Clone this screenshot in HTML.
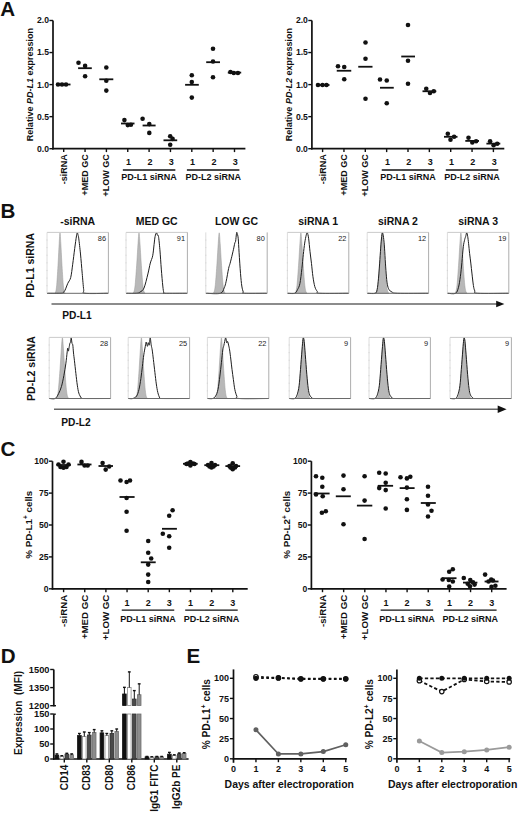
<!DOCTYPE html>
<html><head><meta charset="utf-8"><title>Figure</title>
<style>html,body{margin:0;padding:0;background:#fff;}body{width:520px;height:815px;overflow:hidden;font-family:"Liberation Sans", sans-serif;}svg{display:block;}</style>
</head><body>
<svg width="520" height="815" viewBox="0 0 520 815" font-family='"Liberation Sans", sans-serif'><text x="0.2" y="16" font-size="20.6" font-weight="bold" text-anchor="start" fill="#111" >A</text>
<text x="0.6" y="217.6" font-size="20.6" font-weight="bold" text-anchor="start" fill="#111" >B</text>
<text x="0.6" y="456" font-size="20.6" font-weight="bold" text-anchor="start" fill="#111" >C</text>
<text x="0.8" y="662.8" font-size="20.6" font-weight="bold" text-anchor="start" fill="#111" >D</text>
<text x="186.6" y="663" font-size="20.6" font-weight="bold" text-anchor="start" fill="#111" >E</text>
<line x1="53" y1="20.5" x2="53" y2="149.5" stroke="#111" stroke-width="1.7" />
<line x1="49.4" y1="148.7" x2="53" y2="148.7" stroke="#111" stroke-width="1.4" />
<text x="49" y="151.6" font-size="8.6" font-weight="bold" text-anchor="end" fill="#111" >0.0</text>
<line x1="49.4" y1="116.65" x2="53" y2="116.65" stroke="#111" stroke-width="1.4" />
<text x="49" y="119.55" font-size="8.6" font-weight="bold" text-anchor="end" fill="#111" >0.5</text>
<line x1="49.4" y1="84.6" x2="53" y2="84.6" stroke="#111" stroke-width="1.4" />
<text x="49" y="87.5" font-size="8.6" font-weight="bold" text-anchor="end" fill="#111" >1.0</text>
<line x1="49.4" y1="52.55" x2="53" y2="52.55" stroke="#111" stroke-width="1.4" />
<text x="49" y="55.45" font-size="8.6" font-weight="bold" text-anchor="end" fill="#111" >1.5</text>
<line x1="49.4" y1="20.5" x2="53" y2="20.5" stroke="#111" stroke-width="1.4" />
<text x="49" y="23.4" font-size="8.6" font-weight="bold" text-anchor="end" fill="#111" >2.0</text>
<line x1="52.2" y1="148.7" x2="245.4" y2="148.7" stroke="#111" stroke-width="1.7" />
<line x1="63.7" y1="148.7" x2="63.7" y2="152.1" stroke="#111" stroke-width="1.4" />
<line x1="85.05" y1="148.7" x2="85.05" y2="152.1" stroke="#111" stroke-width="1.4" />
<line x1="106.4" y1="148.7" x2="106.4" y2="152.1" stroke="#111" stroke-width="1.4" />
<line x1="127.75" y1="148.7" x2="127.75" y2="152.1" stroke="#111" stroke-width="1.4" />
<line x1="149.1" y1="148.7" x2="149.1" y2="152.1" stroke="#111" stroke-width="1.4" />
<line x1="170.45" y1="148.7" x2="170.45" y2="152.1" stroke="#111" stroke-width="1.4" />
<line x1="191.8" y1="148.7" x2="191.8" y2="152.1" stroke="#111" stroke-width="1.4" />
<line x1="213.15" y1="148.7" x2="213.15" y2="152.1" stroke="#111" stroke-width="1.4" />
<line x1="234.5" y1="148.7" x2="234.5" y2="152.1" stroke="#111" stroke-width="1.4" />
<text x="66.8" y="154.3" font-size="9" font-weight="bold" text-anchor="end" fill="#111" transform="rotate(-90 66.8 154.3)" >-siRNA</text>
<text x="88.15" y="154.3" font-size="9" font-weight="bold" text-anchor="end" fill="#111" transform="rotate(-90 88.15 154.3)" >+MED GC</text>
<text x="109.5" y="154.3" font-size="9" font-weight="bold" text-anchor="end" fill="#111" transform="rotate(-90 109.5 154.3)" >+LOW GC</text>
<text x="128.55" y="164.8" font-size="9" font-weight="bold" text-anchor="middle" fill="#111" >1</text>
<text x="149.9" y="164.8" font-size="9" font-weight="bold" text-anchor="middle" fill="#111" >2</text>
<text x="171.25" y="164.8" font-size="9" font-weight="bold" text-anchor="middle" fill="#111" >3</text>
<text x="192.6" y="164.8" font-size="9" font-weight="bold" text-anchor="middle" fill="#111" >1</text>
<text x="213.95" y="164.8" font-size="9" font-weight="bold" text-anchor="middle" fill="#111" >2</text>
<text x="235.3" y="164.8" font-size="9" font-weight="bold" text-anchor="middle" fill="#111" >3</text>
<line x1="122.85" y1="170" x2="175.35" y2="170" stroke="#111" stroke-width="1.4" />
<text x="149.1" y="180.1" font-size="9" font-weight="bold" text-anchor="middle" fill="#111" >PD-L1 siRNA</text>
<line x1="186.9" y1="170" x2="239.4" y2="170" stroke="#111" stroke-width="1.4" />
<text x="213.15" y="180.1" font-size="9" font-weight="bold" text-anchor="middle" fill="#111" >PD-L2 siRNA</text>
<text x="33" y="84.6" font-size="9" font-weight="bold" text-anchor="middle" fill="#111" transform="rotate(-90 33 84.6)">Relative <tspan font-style="italic">PD-L1</tspan> expression</text>
<circle cx="58" cy="84.5" r="2.3" fill="#111"/>
<circle cx="62" cy="84.5" r="2.3" fill="#111"/>
<circle cx="66" cy="84.5" r="2.3" fill="#111"/>
<line x1="56.5" y1="84.5" x2="70.5" y2="84.5" stroke="#111" stroke-width="1.8" />
<circle cx="78.5" cy="62.8" r="2.3" fill="#111"/>
<circle cx="85.1" cy="65.9" r="2.3" fill="#111"/>
<circle cx="85.1" cy="76.2" r="2.3" fill="#111"/>
<line x1="78.1" y1="68.2" x2="91.8" y2="68.2" stroke="#111" stroke-width="1.8" />
<circle cx="106.3" cy="67.5" r="2.3" fill="#111"/>
<circle cx="106.3" cy="80.7" r="2.3" fill="#111"/>
<circle cx="106.3" cy="90.6" r="2.3" fill="#111"/>
<line x1="99.3" y1="79.3" x2="113.3" y2="79.3" stroke="#111" stroke-width="1.8" />
<circle cx="124.4" cy="120.1" r="2.3" fill="#111"/>
<circle cx="127.8" cy="125.1" r="2.3" fill="#111"/>
<circle cx="130.9" cy="124.8" r="2.3" fill="#111"/>
<line x1="121" y1="123.5" x2="134.5" y2="123.5" stroke="#111" stroke-width="1.8" />
<circle cx="142.6" cy="118.7" r="2.3" fill="#111"/>
<circle cx="149.3" cy="124.1" r="2.3" fill="#111"/>
<circle cx="149.3" cy="132.9" r="2.3" fill="#111"/>
<line x1="142.6" y1="125.5" x2="155.6" y2="125.5" stroke="#111" stroke-width="1.8" />
<circle cx="170.2" cy="136.2" r="2.3" fill="#111"/>
<circle cx="172.6" cy="138.9" r="2.3" fill="#111"/>
<circle cx="170.2" cy="144.7" r="2.3" fill="#111"/>
<line x1="163.5" y1="140.3" x2="177.2" y2="140.3" stroke="#111" stroke-width="1.8" />
<circle cx="191.8" cy="75.3" r="2.3" fill="#111"/>
<circle cx="191.8" cy="82" r="2.3" fill="#111"/>
<circle cx="191.8" cy="97.6" r="2.3" fill="#111"/>
<line x1="185.1" y1="84.8" x2="198.8" y2="84.8" stroke="#111" stroke-width="1.8" />
<circle cx="213" cy="48.7" r="2.3" fill="#111"/>
<circle cx="213" cy="61.5" r="2.3" fill="#111"/>
<circle cx="213" cy="77.3" r="2.3" fill="#111"/>
<line x1="206.2" y1="62.2" x2="220" y2="62.2" stroke="#111" stroke-width="1.8" />
<circle cx="230.5" cy="72" r="2.3" fill="#111"/>
<circle cx="233.8" cy="73" r="2.3" fill="#111"/>
<circle cx="237.9" cy="73" r="2.3" fill="#111"/>
<line x1="227.8" y1="72.6" x2="241.2" y2="72.6" stroke="#111" stroke-width="1.8" />
<line x1="311.9" y1="20.5" x2="311.9" y2="149.5" stroke="#111" stroke-width="1.7" />
<line x1="308.3" y1="148.7" x2="311.9" y2="148.7" stroke="#111" stroke-width="1.4" />
<text x="307.9" y="151.6" font-size="8.6" font-weight="bold" text-anchor="end" fill="#111" >0.0</text>
<line x1="308.3" y1="116.65" x2="311.9" y2="116.65" stroke="#111" stroke-width="1.4" />
<text x="307.9" y="119.55" font-size="8.6" font-weight="bold" text-anchor="end" fill="#111" >0.5</text>
<line x1="308.3" y1="84.6" x2="311.9" y2="84.6" stroke="#111" stroke-width="1.4" />
<text x="307.9" y="87.5" font-size="8.6" font-weight="bold" text-anchor="end" fill="#111" >1.0</text>
<line x1="308.3" y1="52.55" x2="311.9" y2="52.55" stroke="#111" stroke-width="1.4" />
<text x="307.9" y="55.45" font-size="8.6" font-weight="bold" text-anchor="end" fill="#111" >1.5</text>
<line x1="308.3" y1="20.5" x2="311.9" y2="20.5" stroke="#111" stroke-width="1.4" />
<text x="307.9" y="23.4" font-size="8.6" font-weight="bold" text-anchor="end" fill="#111" >2.0</text>
<line x1="311.1" y1="148.7" x2="504.3" y2="148.7" stroke="#111" stroke-width="1.7" />
<line x1="322.6" y1="148.7" x2="322.6" y2="152.1" stroke="#111" stroke-width="1.4" />
<line x1="343.95" y1="148.7" x2="343.95" y2="152.1" stroke="#111" stroke-width="1.4" />
<line x1="365.3" y1="148.7" x2="365.3" y2="152.1" stroke="#111" stroke-width="1.4" />
<line x1="386.65" y1="148.7" x2="386.65" y2="152.1" stroke="#111" stroke-width="1.4" />
<line x1="408" y1="148.7" x2="408" y2="152.1" stroke="#111" stroke-width="1.4" />
<line x1="429.35" y1="148.7" x2="429.35" y2="152.1" stroke="#111" stroke-width="1.4" />
<line x1="450.7" y1="148.7" x2="450.7" y2="152.1" stroke="#111" stroke-width="1.4" />
<line x1="472.05" y1="148.7" x2="472.05" y2="152.1" stroke="#111" stroke-width="1.4" />
<line x1="493.4" y1="148.7" x2="493.4" y2="152.1" stroke="#111" stroke-width="1.4" />
<text x="325.7" y="154.3" font-size="9" font-weight="bold" text-anchor="end" fill="#111" transform="rotate(-90 325.7 154.3)" >-siRNA</text>
<text x="347.05" y="154.3" font-size="9" font-weight="bold" text-anchor="end" fill="#111" transform="rotate(-90 347.05 154.3)" >+MED GC</text>
<text x="368.4" y="154.3" font-size="9" font-weight="bold" text-anchor="end" fill="#111" transform="rotate(-90 368.4 154.3)" >+LOW GC</text>
<text x="387.45" y="164.8" font-size="9" font-weight="bold" text-anchor="middle" fill="#111" >1</text>
<text x="408.8" y="164.8" font-size="9" font-weight="bold" text-anchor="middle" fill="#111" >2</text>
<text x="430.15" y="164.8" font-size="9" font-weight="bold" text-anchor="middle" fill="#111" >3</text>
<text x="451.5" y="164.8" font-size="9" font-weight="bold" text-anchor="middle" fill="#111" >1</text>
<text x="472.85" y="164.8" font-size="9" font-weight="bold" text-anchor="middle" fill="#111" >2</text>
<text x="494.2" y="164.8" font-size="9" font-weight="bold" text-anchor="middle" fill="#111" >3</text>
<line x1="381.75" y1="170" x2="434.25" y2="170" stroke="#111" stroke-width="1.4" />
<text x="408" y="180.1" font-size="9" font-weight="bold" text-anchor="middle" fill="#111" >PD-L1 siRNA</text>
<line x1="445.8" y1="170" x2="498.3" y2="170" stroke="#111" stroke-width="1.4" />
<text x="472.05" y="180.1" font-size="9" font-weight="bold" text-anchor="middle" fill="#111" >PD-L2 siRNA</text>
<text x="291.9" y="84.6" font-size="9" font-weight="bold" text-anchor="middle" fill="#111" transform="rotate(-90 291.9 84.6)">Relative <tspan font-style="italic">PD-L2</tspan> expression</text>
<circle cx="318" cy="85" r="2.3" fill="#111"/>
<circle cx="322.5" cy="85" r="2.3" fill="#111"/>
<circle cx="326.5" cy="85" r="2.3" fill="#111"/>
<line x1="316.25" y1="85" x2="329.5" y2="85" stroke="#111" stroke-width="1.8" />
<circle cx="338" cy="66.25" r="2.3" fill="#111"/>
<circle cx="344.25" cy="67" r="2.3" fill="#111"/>
<circle cx="344.25" cy="79.25" r="2.3" fill="#111"/>
<line x1="336.75" y1="70.75" x2="351.25" y2="70.75" stroke="#111" stroke-width="1.8" />
<circle cx="365.5" cy="42.5" r="2.3" fill="#111"/>
<circle cx="365.5" cy="58.75" r="2.3" fill="#111"/>
<circle cx="365.5" cy="98.75" r="2.3" fill="#111"/>
<line x1="358.25" y1="66.75" x2="372.5" y2="66.75" stroke="#111" stroke-width="1.8" />
<circle cx="380" cy="79.5" r="2.3" fill="#111"/>
<circle cx="386.75" cy="80.5" r="2.3" fill="#111"/>
<circle cx="386.75" cy="103.25" r="2.3" fill="#111"/>
<line x1="380" y1="87.75" x2="393.75" y2="87.75" stroke="#111" stroke-width="1.8" />
<circle cx="408" cy="25" r="2.3" fill="#111"/>
<circle cx="408" cy="60.75" r="2.3" fill="#111"/>
<circle cx="408" cy="83.75" r="2.3" fill="#111"/>
<line x1="401.25" y1="56.5" x2="415" y2="56.5" stroke="#111" stroke-width="1.8" />
<circle cx="426.25" cy="88.75" r="2.3" fill="#111"/>
<circle cx="430" cy="93" r="2.3" fill="#111"/>
<circle cx="433.75" cy="91.25" r="2.3" fill="#111"/>
<line x1="422.5" y1="91.25" x2="436.25" y2="91.25" stroke="#111" stroke-width="1.8" />
<circle cx="447.8" cy="133.7" r="2.3" fill="#111"/>
<circle cx="450.5" cy="139.8" r="2.3" fill="#111"/>
<circle cx="454.1" cy="136.8" r="2.3" fill="#111"/>
<line x1="444" y1="136.8" x2="457.5" y2="136.8" stroke="#111" stroke-width="1.8" />
<circle cx="468.5" cy="137.8" r="2.3" fill="#111"/>
<circle cx="472.3" cy="142.5" r="2.3" fill="#111"/>
<circle cx="476.1" cy="141.2" r="2.3" fill="#111"/>
<line x1="465.3" y1="140.9" x2="479" y2="140.9" stroke="#111" stroke-width="1.8" />
<circle cx="490.1" cy="141.2" r="2.3" fill="#111"/>
<circle cx="493.6" cy="145.2" r="2.3" fill="#111"/>
<circle cx="497.2" cy="143.8" r="2.3" fill="#111"/>
<line x1="486.4" y1="143.6" x2="500.3" y2="143.6" stroke="#111" stroke-width="1.8" />
<path d="M54.73 293.3 C54.89 293.01 55.42 292.94 55.75 291.49 C56.08 290.03 56.39 288.77 56.77 284.23 C57.15 279.68 57.75 269.54 58.13 263.05 C58.51 256.56 58.85 248.53 59.15 243.69 C59.45 238.85 59.73 232.8 60 232.8 C60.27 232.8 60.55 238.85 60.85 243.69 C61.15 248.53 61.49 256.56 61.87 263.05 C62.25 269.54 62.85 279.68 63.23 284.23 C63.61 288.77 63.92 290.03 64.25 291.49 C64.58 292.94 65.11 293.01 65.27 293.3 Z" fill="#b8b8b8" stroke="#999" stroke-width="0.5"/>
<path d="M47.5 293.3 C49.66 293.3 58.52 293.4 61 293.3 C63.48 293.2 62.36 293.18 63 292.69 C63.64 292.21 64.23 291.78 65 290.28 C65.77 288.77 66.89 285.35 67.8 283.32 C68.71 281.28 69.92 280.62 70.7 277.57 C71.48 274.52 72.06 268.91 72.7 264.26 C73.34 259.61 74.09 253.08 74.7 248.53 C75.31 243.98 76.08 238.34 76.5 235.83 C76.92 233.31 77.04 232.9 77.3 232.8 C77.56 232.7 77.86 234.25 78.1 235.22 C78.34 236.19 78.42 235.85 78.8 238.85 C79.18 241.85 79.96 248.46 80.5 253.98 C81.04 259.49 81.69 267.62 82.2 273.34 C82.71 279.05 83.25 286.48 83.7 289.67 C84.15 292.86 81.13 292.72 85 293.3 C88.87 293.88 104.24 293.3 107.9 293.3" fill="none" stroke="#1e1e1e" stroke-width="1.0" stroke-linejoin="round"/>
<line x1="47" y1="232.4" x2="108.4" y2="232.4" stroke="#c4c4c4" stroke-width="0.9" />
<line x1="47" y1="232.4" x2="47" y2="293.3" stroke="#d8d8d8" stroke-width="0.9" />
<line x1="46.4" y1="285.69" x2="47.6" y2="285.69" stroke="#d0d0d0" stroke-width="0.7" />
<line x1="46.4" y1="278.07" x2="47.6" y2="278.07" stroke="#d0d0d0" stroke-width="0.7" />
<line x1="46.4" y1="270.46" x2="47.6" y2="270.46" stroke="#d0d0d0" stroke-width="0.7" />
<line x1="46.4" y1="262.85" x2="47.6" y2="262.85" stroke="#d0d0d0" stroke-width="0.7" />
<line x1="46.4" y1="255.24" x2="47.6" y2="255.24" stroke="#d0d0d0" stroke-width="0.7" />
<line x1="46.4" y1="247.62" x2="47.6" y2="247.62" stroke="#d0d0d0" stroke-width="0.7" />
<line x1="46.4" y1="240.01" x2="47.6" y2="240.01" stroke="#d0d0d0" stroke-width="0.7" />
<line x1="108.4" y1="232.4" x2="108.4" y2="293.3" stroke="#a4a4a4" stroke-width="0.9" />
<line x1="47" y1="293.3" x2="108.4" y2="293.3" stroke="#6a6a6a" stroke-width="1" />
<text x="106" y="240.8" font-size="7.4" font-weight="normal" text-anchor="end" fill="#222" >86</text>
<text x="77.7" y="224.8" font-size="10.5" font-weight="bold" text-anchor="middle" fill="#111" >-siRNA</text>
<path d="M132.8 293.3 C132.99 293.01 133.62 292.94 134 291.49 C134.38 290.03 134.75 288.77 135.2 284.23 C135.65 279.68 136.35 269.54 136.8 263.05 C137.25 256.56 137.65 248.53 138 243.69 C138.35 238.85 138.68 232.8 139 232.8 C139.32 232.8 139.65 238.85 140 243.69 C140.35 248.53 140.75 256.56 141.2 263.05 C141.65 269.54 142.35 279.68 142.8 284.23 C143.25 288.77 143.62 290.03 144 291.49 C144.38 292.94 145.01 293.01 145.2 293.3 Z" fill="#b8b8b8" stroke="#999" stroke-width="0.5"/>
<path d="M126.5 293.3 C128.07 293.3 134.14 293.49 136.3 293.3 C138.46 293.11 138.77 292.93 140 292.09 C141.23 291.25 142.74 290.94 144 288.04 C145.26 285.13 146.89 277.94 147.9 273.94 C148.91 269.94 149.53 265.95 150.3 263.05 C151.07 260.15 152.09 258.79 152.7 255.79 C153.31 252.79 153.72 247.39 154.1 244.3 C154.48 241.2 154.72 238.27 155.1 236.43 C155.48 234.59 156.12 232.99 156.5 232.8 C156.88 232.61 157.18 234.64 157.5 235.22 C157.82 235.8 158.12 234.11 158.5 236.43 C158.88 238.75 159.45 244.51 159.9 249.74 C160.35 254.97 160.84 263.29 161.3 269.1 C161.76 274.91 162.4 282.26 162.8 286.04 C163.2 289.82 163.48 291.53 163.8 292.69 C164.12 293.86 161.1 293.2 164.8 293.3 C168.5 293.4 183.36 293.3 186.9 293.3" fill="none" stroke="#1e1e1e" stroke-width="1.0" stroke-linejoin="round"/>
<line x1="126" y1="232.4" x2="187.4" y2="232.4" stroke="#c4c4c4" stroke-width="0.9" />
<line x1="126" y1="232.4" x2="126" y2="293.3" stroke="#d8d8d8" stroke-width="0.9" />
<line x1="125.4" y1="285.69" x2="126.6" y2="285.69" stroke="#d0d0d0" stroke-width="0.7" />
<line x1="125.4" y1="278.07" x2="126.6" y2="278.07" stroke="#d0d0d0" stroke-width="0.7" />
<line x1="125.4" y1="270.46" x2="126.6" y2="270.46" stroke="#d0d0d0" stroke-width="0.7" />
<line x1="125.4" y1="262.85" x2="126.6" y2="262.85" stroke="#d0d0d0" stroke-width="0.7" />
<line x1="125.4" y1="255.24" x2="126.6" y2="255.24" stroke="#d0d0d0" stroke-width="0.7" />
<line x1="125.4" y1="247.62" x2="126.6" y2="247.62" stroke="#d0d0d0" stroke-width="0.7" />
<line x1="125.4" y1="240.01" x2="126.6" y2="240.01" stroke="#d0d0d0" stroke-width="0.7" />
<line x1="187.4" y1="232.4" x2="187.4" y2="293.3" stroke="#a4a4a4" stroke-width="0.9" />
<line x1="126" y1="293.3" x2="187.4" y2="293.3" stroke="#6a6a6a" stroke-width="1" />
<text x="185" y="240.8" font-size="7.4" font-weight="normal" text-anchor="end" fill="#222" >91</text>
<text x="156.7" y="224.8" font-size="10.5" font-weight="bold" text-anchor="middle" fill="#111" >MED GC</text>
<path d="M213 293.3 C213.19 293.01 213.82 292.94 214.2 291.49 C214.58 290.03 214.95 288.77 215.4 284.23 C215.85 279.68 216.55 269.54 217 263.05 C217.45 256.56 217.85 248.53 218.2 243.69 C218.55 238.85 218.88 232.8 219.2 232.8 C219.52 232.8 219.85 238.85 220.2 243.69 C220.55 248.53 220.95 256.56 221.4 263.05 C221.85 269.54 222.55 279.68 223 284.23 C223.45 288.77 223.82 290.03 224.2 291.49 C224.58 292.94 225.21 293.01 225.4 293.3 Z" fill="#b8b8b8" stroke="#999" stroke-width="0.5"/>
<path d="M206.3 293.3 C208.56 293.3 217.54 294.17 220.4 293.3 C223.26 292.43 223.27 289.79 224.2 287.86 C225.13 285.92 225.5 284.3 226.2 281.2 C226.9 278.1 227.99 271.3 228.6 268.5 C229.21 265.69 229.55 265.3 230 263.66 C230.45 262.01 230.86 260.44 231.4 258.21 C231.94 255.98 232.86 252.16 233.4 249.74 C233.94 247.32 234.45 244.44 234.8 243.09 C235.15 241.73 235.33 242.82 235.6 241.27 C235.87 239.72 236.28 234.76 236.5 233.41 C236.72 232.05 236.73 232.03 237 232.8 C237.27 233.57 237.86 235.05 238.2 238.25 C238.54 241.44 238.73 247.15 239.1 252.77 C239.47 258.38 240.07 268.01 240.5 273.34 C240.93 278.66 241.35 283.04 241.8 286.04 C242.25 289.04 242.9 290.93 243.3 292.09 C243.7 293.25 240.56 293.11 244.3 293.3 C248.04 293.49 263.12 293.3 266.7 293.3" fill="none" stroke="#1e1e1e" stroke-width="1.0" stroke-linejoin="round"/>
<line x1="205.8" y1="232.4" x2="205.8" y2="293.3" stroke="#d8d8d8" stroke-width="0.9" />
<line x1="205.2" y1="285.69" x2="206.4" y2="285.69" stroke="#d0d0d0" stroke-width="0.7" />
<line x1="205.2" y1="278.07" x2="206.4" y2="278.07" stroke="#d0d0d0" stroke-width="0.7" />
<line x1="205.2" y1="270.46" x2="206.4" y2="270.46" stroke="#d0d0d0" stroke-width="0.7" />
<line x1="205.2" y1="262.85" x2="206.4" y2="262.85" stroke="#d0d0d0" stroke-width="0.7" />
<line x1="205.2" y1="255.24" x2="206.4" y2="255.24" stroke="#d0d0d0" stroke-width="0.7" />
<line x1="205.2" y1="247.62" x2="206.4" y2="247.62" stroke="#d0d0d0" stroke-width="0.7" />
<line x1="205.2" y1="240.01" x2="206.4" y2="240.01" stroke="#d0d0d0" stroke-width="0.7" />
<line x1="267.2" y1="232.4" x2="267.2" y2="293.3" stroke="#a4a4a4" stroke-width="0.9" />
<line x1="205.8" y1="293.3" x2="267.2" y2="293.3" stroke="#6a6a6a" stroke-width="1" />
<text x="264.8" y="240.8" font-size="7.4" font-weight="normal" text-anchor="end" fill="#222" >80</text>
<text x="236.5" y="224.8" font-size="10.5" font-weight="bold" text-anchor="middle" fill="#111" >LOW GC</text>
<path d="M294.7 293.3 C294.89 293.01 295.52 292.94 295.9 291.49 C296.28 290.03 296.65 288.77 297.1 284.23 C297.55 279.68 298.25 269.54 298.7 263.05 C299.15 256.56 299.55 248.53 299.9 243.69 C300.25 238.85 300.58 232.8 300.9 232.8 C301.22 232.8 301.55 238.85 301.9 243.69 C302.25 248.53 302.65 256.56 303.1 263.05 C303.55 269.54 304.25 279.68 304.7 284.23 C305.15 288.77 305.52 290.03 305.9 291.49 C306.28 292.94 306.91 293.01 307.1 293.3 Z" fill="#b8b8b8" stroke="#999" stroke-width="0.5"/>
<path d="M287.9 293.3 C288.99 293.3 293.16 293.88 294.7 293.3 C296.24 292.72 296.67 291.22 297.5 289.67 C298.33 288.12 299.2 287.01 299.9 283.62 C300.6 280.23 301.36 273.14 301.9 268.5 C302.44 263.85 302.85 258.65 303.3 254.58 C303.75 250.51 304.24 246.18 304.7 243.09 C305.16 239.99 305.78 236.87 306.2 235.22 C306.62 233.57 306.92 232.32 307.3 232.8 C307.68 233.28 308.17 235.24 308.6 238.25 C309.03 241.25 309.54 247.49 310 251.56 C310.46 255.62 311.04 259.69 311.5 263.66 C311.96 267.62 312.37 272.68 312.9 276.36 C313.43 280.04 314.1 284.22 314.8 286.64 C315.5 289.06 316.52 290.42 317.3 291.49 C318.08 292.55 314.74 293.01 319.7 293.3 C324.66 293.59 343.72 293.3 348.3 293.3" fill="none" stroke="#1e1e1e" stroke-width="1.0" stroke-linejoin="round"/>
<line x1="287.4" y1="232.4" x2="348.8" y2="232.4" stroke="#c4c4c4" stroke-width="0.9" />
<line x1="287.4" y1="232.4" x2="287.4" y2="293.3" stroke="#d8d8d8" stroke-width="0.9" />
<line x1="286.8" y1="285.69" x2="288" y2="285.69" stroke="#d0d0d0" stroke-width="0.7" />
<line x1="286.8" y1="278.07" x2="288" y2="278.07" stroke="#d0d0d0" stroke-width="0.7" />
<line x1="286.8" y1="270.46" x2="288" y2="270.46" stroke="#d0d0d0" stroke-width="0.7" />
<line x1="286.8" y1="262.85" x2="288" y2="262.85" stroke="#d0d0d0" stroke-width="0.7" />
<line x1="286.8" y1="255.24" x2="288" y2="255.24" stroke="#d0d0d0" stroke-width="0.7" />
<line x1="286.8" y1="247.62" x2="288" y2="247.62" stroke="#d0d0d0" stroke-width="0.7" />
<line x1="286.8" y1="240.01" x2="288" y2="240.01" stroke="#d0d0d0" stroke-width="0.7" />
<line x1="348.8" y1="232.4" x2="348.8" y2="293.3" stroke="#a4a4a4" stroke-width="0.9" />
<line x1="287.4" y1="293.3" x2="348.8" y2="293.3" stroke="#6a6a6a" stroke-width="1" />
<text x="346.4" y="240.8" font-size="7.4" font-weight="normal" text-anchor="end" fill="#222" >22</text>
<text x="318.1" y="224.8" font-size="10.5" font-weight="bold" text-anchor="middle" fill="#111" >siRNA 1</text>
<path d="M375.48 293.3 C375.69 293.01 376.38 292.94 376.8 291.49 C377.22 290.03 377.63 288.77 378.12 284.23 C378.61 279.68 379.39 269.54 379.88 263.05 C380.37 256.56 380.81 248.53 381.2 243.69 C381.59 238.85 381.95 232.8 382.3 232.8 C382.65 232.8 383.01 238.85 383.4 243.69 C383.79 248.53 384.23 256.56 384.72 263.05 C385.21 269.54 385.99 279.68 386.48 284.23 C386.97 288.77 387.38 290.03 387.8 291.49 C388.22 292.94 388.91 293.01 389.12 293.3 Z" fill="#b8b8b8" stroke="#999" stroke-width="0.5"/>
<path d="M367.7 293.3 C368.88 293.3 373.6 293.88 375.1 293.3 C376.6 292.72 376.56 292.09 377.1 289.67 C377.64 287.25 378.05 283.01 378.5 278.18 C378.95 273.34 379.52 264.74 379.9 259.42 C380.28 254.1 380.58 248.87 380.9 244.9 C381.22 240.93 381.64 236.55 381.9 234.62 C382.16 232.68 382.28 232.61 382.5 232.8 C382.72 232.99 383.01 233.89 383.3 235.83 C383.59 237.76 384 241.12 384.3 244.9 C384.6 248.68 384.9 254.77 385.2 259.42 C385.5 264.07 385.86 269.97 386.2 273.94 C386.54 277.91 386.84 281.71 387.3 284.23 C387.76 286.74 388.35 288.41 389.1 289.67 C389.85 290.93 390.62 291.51 392 292.09 C393.38 292.67 391.92 293.11 397.7 293.3 C403.48 293.49 423.24 293.3 428.1 293.3" fill="none" stroke="#1e1e1e" stroke-width="1.0" stroke-linejoin="round"/>
<line x1="367.2" y1="232.4" x2="428.6" y2="232.4" stroke="#c4c4c4" stroke-width="0.9" />
<line x1="367.2" y1="232.4" x2="367.2" y2="293.3" stroke="#d8d8d8" stroke-width="0.9" />
<line x1="366.6" y1="285.69" x2="367.8" y2="285.69" stroke="#d0d0d0" stroke-width="0.7" />
<line x1="366.6" y1="278.07" x2="367.8" y2="278.07" stroke="#d0d0d0" stroke-width="0.7" />
<line x1="366.6" y1="270.46" x2="367.8" y2="270.46" stroke="#d0d0d0" stroke-width="0.7" />
<line x1="366.6" y1="262.85" x2="367.8" y2="262.85" stroke="#d0d0d0" stroke-width="0.7" />
<line x1="366.6" y1="255.24" x2="367.8" y2="255.24" stroke="#d0d0d0" stroke-width="0.7" />
<line x1="366.6" y1="247.62" x2="367.8" y2="247.62" stroke="#d0d0d0" stroke-width="0.7" />
<line x1="366.6" y1="240.01" x2="367.8" y2="240.01" stroke="#d0d0d0" stroke-width="0.7" />
<line x1="428.6" y1="232.4" x2="428.6" y2="293.3" stroke="#a4a4a4" stroke-width="0.9" />
<line x1="367.2" y1="293.3" x2="428.6" y2="293.3" stroke="#6a6a6a" stroke-width="1" />
<text x="426.2" y="240.8" font-size="7.4" font-weight="normal" text-anchor="end" fill="#222" >12</text>
<text x="397.9" y="224.8" font-size="10.5" font-weight="bold" text-anchor="middle" fill="#111" >siRNA 2</text>
<path d="M454.7 293.3 C454.89 293.01 455.52 292.94 455.9 291.49 C456.28 290.03 456.65 288.77 457.1 284.23 C457.55 279.68 458.25 269.54 458.7 263.05 C459.15 256.56 459.55 248.53 459.9 243.69 C460.25 238.85 460.58 232.8 460.9 232.8 C461.22 232.8 461.55 238.85 461.9 243.69 C462.25 248.53 462.65 256.56 463.1 263.05 C463.55 269.54 464.25 279.68 464.7 284.23 C465.15 288.77 465.52 290.03 465.9 291.49 C466.28 292.94 466.91 293.01 467.1 293.3 Z" fill="#b8b8b8" stroke="#999" stroke-width="0.5"/>
<path d="M447.9 293.3 C449.13 293.3 453.9 294.27 455.6 293.3 C457.3 292.33 457.73 289.96 458.5 287.25 C459.27 284.54 459.86 280.33 460.4 276.36 C460.94 272.39 461.44 267.19 461.9 262.44 C462.36 257.7 462.85 250.39 463.3 246.72 C463.75 243.04 464.32 241.1 464.7 239.46 C465.08 237.81 465.38 237.49 465.7 236.43 C466.02 235.37 466.38 232.8 466.7 232.8 C467.02 232.8 467.4 234.69 467.7 236.43 C468 238.17 468.3 240.98 468.6 243.69 C468.9 246.4 469.25 250.27 469.6 253.37 C469.95 256.47 470.42 259.76 470.8 263.05 C471.18 266.34 471.58 270.36 472 273.94 C472.42 277.52 472.95 282.72 473.4 285.44 C473.85 288.15 474.11 289.62 474.8 290.88 C475.49 292.14 472.34 292.91 477.7 293.3 C483.06 293.69 503.4 293.3 508.3 293.3" fill="none" stroke="#1e1e1e" stroke-width="1.0" stroke-linejoin="round"/>
<line x1="447.4" y1="232.4" x2="508.8" y2="232.4" stroke="#c4c4c4" stroke-width="0.9" />
<line x1="447.4" y1="232.4" x2="447.4" y2="293.3" stroke="#d8d8d8" stroke-width="0.9" />
<line x1="446.8" y1="285.69" x2="448" y2="285.69" stroke="#d0d0d0" stroke-width="0.7" />
<line x1="446.8" y1="278.07" x2="448" y2="278.07" stroke="#d0d0d0" stroke-width="0.7" />
<line x1="446.8" y1="270.46" x2="448" y2="270.46" stroke="#d0d0d0" stroke-width="0.7" />
<line x1="446.8" y1="262.85" x2="448" y2="262.85" stroke="#d0d0d0" stroke-width="0.7" />
<line x1="446.8" y1="255.24" x2="448" y2="255.24" stroke="#d0d0d0" stroke-width="0.7" />
<line x1="446.8" y1="247.62" x2="448" y2="247.62" stroke="#d0d0d0" stroke-width="0.7" />
<line x1="446.8" y1="240.01" x2="448" y2="240.01" stroke="#d0d0d0" stroke-width="0.7" />
<line x1="508.8" y1="232.4" x2="508.8" y2="293.3" stroke="#a4a4a4" stroke-width="0.9" />
<line x1="447.4" y1="293.3" x2="508.8" y2="293.3" stroke="#6a6a6a" stroke-width="1" />
<text x="506.4" y="240.8" font-size="7.4" font-weight="normal" text-anchor="end" fill="#222" >19</text>
<text x="478.1" y="224.8" font-size="10.5" font-weight="bold" text-anchor="middle" fill="#111" >siRNA 3</text>
<path d="M55.89 398.5 C56.09 398.21 56.75 398.14 57.15 396.68 C57.55 395.22 57.94 393.96 58.41 389.39 C58.88 384.83 59.62 374.66 60.09 368.15 C60.56 361.64 60.98 353.58 61.35 348.73 C61.72 343.87 62.06 337.8 62.4 337.8 C62.74 337.8 63.08 343.87 63.45 348.73 C63.82 353.58 64.24 361.64 64.71 368.15 C65.18 374.66 65.92 384.83 66.39 389.39 C66.86 393.96 67.25 395.22 67.65 396.68 C68.05 398.14 68.71 398.21 68.91 398.5 Z" fill="#b8b8b8" stroke="#999" stroke-width="0.5"/>
<path d="M49.7 398.5 C50.58 398.5 53.78 399.28 55.2 398.5 C56.62 397.72 57.59 395.59 58.6 393.64 C59.61 391.7 60.65 389.27 61.5 386.36 C62.35 383.45 63.21 379.03 63.9 375.43 C64.59 371.84 65.27 367.69 65.8 363.9 C66.33 360.11 66.9 354.29 67.2 351.76 C67.5 349.24 67.51 348.22 67.7 348.12 C67.89 348.02 68.18 351.25 68.4 351.15 C68.62 351.06 68.86 348.77 69.1 347.51 C69.34 346.25 69.66 344.14 69.9 343.26 C70.14 342.39 70.39 342.92 70.6 342.05 C70.81 341.17 70.98 337.61 71.2 337.8 C71.42 337.99 71.74 342.1 72 343.26 C72.26 344.43 72.56 343.53 72.8 345.08 C73.04 346.64 73.24 350.55 73.5 352.97 C73.76 355.4 74.02 356.96 74.4 360.26 C74.78 363.56 75.44 369.63 75.9 373.61 C76.36 377.59 76.84 382.04 77.3 385.15 C77.76 388.25 78.18 391 78.8 393.04 C79.42 395.08 80.59 397.02 81.2 397.89 C81.81 398.77 77.98 398.4 82.6 398.5 C87.22 398.6 105.7 398.5 110.1 398.5" fill="none" stroke="#1e1e1e" stroke-width="1.0" stroke-linejoin="round"/>
<line x1="49.2" y1="337.4" x2="110.6" y2="337.4" stroke="#c4c4c4" stroke-width="0.9" />
<line x1="49.2" y1="337.4" x2="49.2" y2="398.5" stroke="#d8d8d8" stroke-width="0.9" />
<line x1="48.6" y1="390.86" x2="49.8" y2="390.86" stroke="#d0d0d0" stroke-width="0.7" />
<line x1="48.6" y1="383.23" x2="49.8" y2="383.23" stroke="#d0d0d0" stroke-width="0.7" />
<line x1="48.6" y1="375.59" x2="49.8" y2="375.59" stroke="#d0d0d0" stroke-width="0.7" />
<line x1="48.6" y1="367.95" x2="49.8" y2="367.95" stroke="#d0d0d0" stroke-width="0.7" />
<line x1="48.6" y1="360.31" x2="49.8" y2="360.31" stroke="#d0d0d0" stroke-width="0.7" />
<line x1="48.6" y1="352.67" x2="49.8" y2="352.67" stroke="#d0d0d0" stroke-width="0.7" />
<line x1="48.6" y1="345.04" x2="49.8" y2="345.04" stroke="#d0d0d0" stroke-width="0.7" />
<line x1="110.6" y1="337.4" x2="110.6" y2="398.5" stroke="#a4a4a4" stroke-width="0.9" />
<line x1="49.2" y1="398.5" x2="110.6" y2="398.5" stroke="#6a6a6a" stroke-width="1" />
<text x="108.2" y="345.8" font-size="7.4" font-weight="normal" text-anchor="end" fill="#222" >28</text>
<path d="M135.2 398.5 C135.39 398.21 136.02 398.14 136.4 396.68 C136.78 395.22 137.15 393.96 137.6 389.39 C138.05 384.83 138.75 374.66 139.2 368.15 C139.65 361.64 140.05 353.58 140.4 348.73 C140.75 343.87 141.08 337.8 141.4 337.8 C141.72 337.8 142.05 343.87 142.4 348.73 C142.75 353.58 143.15 361.64 143.6 368.15 C144.05 374.66 144.75 384.83 145.2 389.39 C145.65 393.96 146.02 395.22 146.4 396.68 C146.78 398.14 147.41 398.21 147.6 398.5 Z" fill="#b8b8b8" stroke="#999" stroke-width="0.5"/>
<path d="M128.7 398.5 C129.36 398.5 131.54 398.89 132.8 398.5 C134.06 398.11 135.61 397.53 136.6 396.07 C137.59 394.62 138.31 392.21 139 389.39 C139.69 386.58 140.36 382.16 140.9 378.47 C141.44 374.78 141.94 370.12 142.4 366.33 C142.86 362.54 143.34 358 143.8 354.8 C144.26 351.59 144.92 348.34 145.3 346.3 C145.68 344.26 145.86 342.05 146.2 342.05 C146.54 342.05 147.06 346.2 147.4 346.3 C147.74 346.4 148 342.85 148.3 342.66 C148.6 342.46 149 345.86 149.3 345.08 C149.6 344.31 149.9 337.8 150.2 337.8 C150.5 337.8 150.88 343.14 151.2 345.08 C151.52 347.03 151.85 347.61 152.2 349.94 C152.55 352.27 152.97 356.06 153.4 359.65 C153.83 363.25 154.44 368.51 154.9 372.4 C155.36 376.28 155.84 380.73 156.3 383.93 C156.76 387.14 157.26 390.2 157.8 392.43 C158.34 394.66 159.24 396.92 159.7 397.89 C160.16 398.86 156 398.4 160.7 398.5 C165.4 398.6 184.56 398.5 189.1 398.5" fill="none" stroke="#1e1e1e" stroke-width="1.0" stroke-linejoin="round"/>
<line x1="128.2" y1="337.4" x2="189.6" y2="337.4" stroke="#c4c4c4" stroke-width="0.9" />
<line x1="128.2" y1="337.4" x2="128.2" y2="398.5" stroke="#d8d8d8" stroke-width="0.9" />
<line x1="127.6" y1="390.86" x2="128.8" y2="390.86" stroke="#d0d0d0" stroke-width="0.7" />
<line x1="127.6" y1="383.23" x2="128.8" y2="383.23" stroke="#d0d0d0" stroke-width="0.7" />
<line x1="127.6" y1="375.59" x2="128.8" y2="375.59" stroke="#d0d0d0" stroke-width="0.7" />
<line x1="127.6" y1="367.95" x2="128.8" y2="367.95" stroke="#d0d0d0" stroke-width="0.7" />
<line x1="127.6" y1="360.31" x2="128.8" y2="360.31" stroke="#d0d0d0" stroke-width="0.7" />
<line x1="127.6" y1="352.67" x2="128.8" y2="352.67" stroke="#d0d0d0" stroke-width="0.7" />
<line x1="127.6" y1="345.04" x2="128.8" y2="345.04" stroke="#d0d0d0" stroke-width="0.7" />
<line x1="189.6" y1="337.4" x2="189.6" y2="398.5" stroke="#a4a4a4" stroke-width="0.9" />
<line x1="128.2" y1="398.5" x2="189.6" y2="398.5" stroke="#6a6a6a" stroke-width="1" />
<text x="187.2" y="345.8" font-size="7.4" font-weight="normal" text-anchor="end" fill="#222" >25</text>
<path d="M215.2 398.5 C215.39 398.21 216.02 398.14 216.4 396.68 C216.78 395.22 217.15 393.96 217.6 389.39 C218.05 384.83 218.75 374.66 219.2 368.15 C219.65 361.64 220.05 353.58 220.4 348.73 C220.75 343.87 221.08 337.8 221.4 337.8 C221.72 337.8 222.05 343.87 222.4 348.73 C222.75 353.58 223.15 361.64 223.6 368.15 C224.05 374.66 224.75 384.83 225.2 389.39 C225.65 393.96 226.02 395.22 226.4 396.68 C226.78 398.14 227.41 398.21 227.6 398.5 Z" fill="#b8b8b8" stroke="#999" stroke-width="0.5"/>
<path d="M207.9 398.5 C208.67 398.5 211.47 398.89 212.7 398.5 C213.93 398.11 214.75 397.53 215.6 396.07 C216.45 394.62 217.31 392.6 218 389.39 C218.69 386.19 219.36 380.31 219.9 376.04 C220.44 371.77 220.94 366.86 221.4 362.69 C221.86 358.51 222.42 352.66 222.8 349.94 C223.18 347.22 223.5 347.05 223.8 345.69 C224.1 344.33 224.4 342.7 224.7 341.44 C225 340.18 225.38 337.61 225.7 337.8 C226.02 337.99 226.4 342.07 226.7 342.66 C227 343.24 227.3 341.05 227.6 341.44 C227.9 341.83 228.28 343.72 228.6 345.08 C228.92 346.44 229.25 347.71 229.6 349.94 C229.95 352.17 230.42 355.94 230.8 359.04 C231.18 362.15 231.58 366.06 232 369.36 C232.42 372.67 232.95 376.48 233.4 379.68 C233.85 382.89 234.26 386.77 234.8 389.39 C235.34 392.02 236.1 394.62 236.8 396.07 C237.5 397.53 234.16 398.11 239.2 398.5 C244.24 398.89 263.64 398.5 268.3 398.5" fill="none" stroke="#1e1e1e" stroke-width="1.0" stroke-linejoin="round"/>
<line x1="207.4" y1="337.4" x2="268.8" y2="337.4" stroke="#c4c4c4" stroke-width="0.9" />
<line x1="207.4" y1="337.4" x2="207.4" y2="398.5" stroke="#d8d8d8" stroke-width="0.9" />
<line x1="206.8" y1="390.86" x2="208" y2="390.86" stroke="#d0d0d0" stroke-width="0.7" />
<line x1="206.8" y1="383.23" x2="208" y2="383.23" stroke="#d0d0d0" stroke-width="0.7" />
<line x1="206.8" y1="375.59" x2="208" y2="375.59" stroke="#d0d0d0" stroke-width="0.7" />
<line x1="206.8" y1="367.95" x2="208" y2="367.95" stroke="#d0d0d0" stroke-width="0.7" />
<line x1="206.8" y1="360.31" x2="208" y2="360.31" stroke="#d0d0d0" stroke-width="0.7" />
<line x1="206.8" y1="352.67" x2="208" y2="352.67" stroke="#d0d0d0" stroke-width="0.7" />
<line x1="206.8" y1="345.04" x2="208" y2="345.04" stroke="#d0d0d0" stroke-width="0.7" />
<line x1="268.8" y1="337.4" x2="268.8" y2="398.5" stroke="#a4a4a4" stroke-width="0.9" />
<line x1="207.4" y1="398.5" x2="268.8" y2="398.5" stroke="#6a6a6a" stroke-width="1" />
<text x="266.4" y="345.8" font-size="7.4" font-weight="normal" text-anchor="end" fill="#222" >22</text>
<path d="M296.27 398.5 C296.49 398.21 297.21 398.14 297.65 396.68 C298.09 395.22 298.51 393.96 299.03 389.39 C299.55 384.83 300.35 374.66 300.87 368.15 C301.39 361.64 301.85 353.58 302.25 348.73 C302.65 343.87 303.03 337.8 303.4 337.8 C303.77 337.8 304.15 343.87 304.55 348.73 C304.95 353.58 305.41 361.64 305.93 368.15 C306.45 374.66 307.25 384.83 307.77 389.39 C308.29 393.96 308.71 395.22 309.15 396.68 C309.59 398.14 310.31 398.21 310.53 398.5 Z" fill="#b8b8b8" stroke="#999" stroke-width="0.5"/>
<path d="M289.7 398.5 C290.5 398.5 293.52 399.08 294.7 398.5 C295.88 397.92 296.4 396.9 297.1 394.86 C297.8 392.82 298.56 389.83 299.1 385.75 C299.64 381.67 300.04 375.09 300.5 369.36 C300.96 363.63 301.62 354.7 302 349.94 C302.38 345.18 302.68 341.56 302.9 339.62 C303.12 337.68 303.19 337.51 303.4 337.8 C303.61 338.09 303.9 338.72 304.2 341.44 C304.5 344.16 304.88 349.55 305.3 354.8 C305.72 360.04 306.34 368.88 306.8 374.22 C307.26 379.56 307.75 384.88 308.2 388.18 C308.65 391.48 308.99 393.3 309.6 394.86 C310.21 396.41 311.3 397.31 312 397.89 C312.7 398.48 307.9 398.4 314 398.5 C320.1 398.6 344.32 398.5 350.1 398.5" fill="none" stroke="#1e1e1e" stroke-width="1.0" stroke-linejoin="round"/>
<line x1="289.2" y1="337.4" x2="350.6" y2="337.4" stroke="#c4c4c4" stroke-width="0.9" />
<line x1="289.2" y1="337.4" x2="289.2" y2="398.5" stroke="#d8d8d8" stroke-width="0.9" />
<line x1="288.6" y1="390.86" x2="289.8" y2="390.86" stroke="#d0d0d0" stroke-width="0.7" />
<line x1="288.6" y1="383.23" x2="289.8" y2="383.23" stroke="#d0d0d0" stroke-width="0.7" />
<line x1="288.6" y1="375.59" x2="289.8" y2="375.59" stroke="#d0d0d0" stroke-width="0.7" />
<line x1="288.6" y1="367.95" x2="289.8" y2="367.95" stroke="#d0d0d0" stroke-width="0.7" />
<line x1="288.6" y1="360.31" x2="289.8" y2="360.31" stroke="#d0d0d0" stroke-width="0.7" />
<line x1="288.6" y1="352.67" x2="289.8" y2="352.67" stroke="#d0d0d0" stroke-width="0.7" />
<line x1="288.6" y1="345.04" x2="289.8" y2="345.04" stroke="#d0d0d0" stroke-width="0.7" />
<line x1="350.6" y1="337.4" x2="350.6" y2="398.5" stroke="#a4a4a4" stroke-width="0.9" />
<line x1="289.2" y1="398.5" x2="350.6" y2="398.5" stroke="#6a6a6a" stroke-width="1" />
<text x="348.2" y="345.8" font-size="7.4" font-weight="normal" text-anchor="end" fill="#222" >9</text>
<path d="M376.47 398.5 C376.69 398.21 377.41 398.14 377.85 396.68 C378.29 395.22 378.71 393.96 379.23 389.39 C379.75 384.83 380.55 374.66 381.07 368.15 C381.59 361.64 382.05 353.58 382.45 348.73 C382.85 343.87 383.23 337.8 383.6 337.8 C383.97 337.8 384.35 343.87 384.75 348.73 C385.15 353.58 385.61 361.64 386.13 368.15 C386.65 374.66 387.45 384.83 387.97 389.39 C388.49 393.96 388.91 395.22 389.35 396.68 C389.79 398.14 390.51 398.21 390.73 398.5 Z" fill="#b8b8b8" stroke="#999" stroke-width="0.5"/>
<path d="M369.5 398.5 C370.36 398.5 373.65 399.08 374.9 398.5 C376.15 397.92 376.6 396.9 377.3 394.86 C378 392.82 378.76 389.83 379.3 385.75 C379.84 381.67 380.24 375.09 380.7 369.36 C381.16 363.63 381.82 354.7 382.2 349.94 C382.58 345.18 382.88 341.56 383.1 339.62 C383.32 337.68 383.39 337.51 383.6 337.8 C383.81 338.09 384.1 338.72 384.4 341.44 C384.7 344.16 385.08 349.55 385.5 354.8 C385.92 360.04 386.54 368.88 387 374.22 C387.46 379.56 387.95 384.88 388.4 388.18 C388.85 391.48 389.19 393.3 389.8 394.86 C390.41 396.41 391.5 397.31 392.2 397.89 C392.9 398.48 388.17 398.4 394.2 398.5 C400.23 398.6 424.19 398.5 429.9 398.5" fill="none" stroke="#1e1e1e" stroke-width="1.0" stroke-linejoin="round"/>
<line x1="369" y1="337.4" x2="430.4" y2="337.4" stroke="#c4c4c4" stroke-width="0.9" />
<line x1="369" y1="337.4" x2="369" y2="398.5" stroke="#d8d8d8" stroke-width="0.9" />
<line x1="368.4" y1="390.86" x2="369.6" y2="390.86" stroke="#d0d0d0" stroke-width="0.7" />
<line x1="368.4" y1="383.23" x2="369.6" y2="383.23" stroke="#d0d0d0" stroke-width="0.7" />
<line x1="368.4" y1="375.59" x2="369.6" y2="375.59" stroke="#d0d0d0" stroke-width="0.7" />
<line x1="368.4" y1="367.95" x2="369.6" y2="367.95" stroke="#d0d0d0" stroke-width="0.7" />
<line x1="368.4" y1="360.31" x2="369.6" y2="360.31" stroke="#d0d0d0" stroke-width="0.7" />
<line x1="368.4" y1="352.67" x2="369.6" y2="352.67" stroke="#d0d0d0" stroke-width="0.7" />
<line x1="368.4" y1="345.04" x2="369.6" y2="345.04" stroke="#d0d0d0" stroke-width="0.7" />
<line x1="430.4" y1="337.4" x2="430.4" y2="398.5" stroke="#a4a4a4" stroke-width="0.9" />
<line x1="369" y1="398.5" x2="430.4" y2="398.5" stroke="#6a6a6a" stroke-width="1" />
<text x="428" y="345.8" font-size="7.4" font-weight="normal" text-anchor="end" fill="#222" >9</text>
<path d="M457.07 398.5 C457.29 398.21 458.01 398.14 458.45 396.68 C458.89 395.22 459.31 393.96 459.83 389.39 C460.35 384.83 461.15 374.66 461.67 368.15 C462.19 361.64 462.65 353.58 463.05 348.73 C463.45 343.87 463.83 337.8 464.2 337.8 C464.57 337.8 464.95 343.87 465.35 348.73 C465.75 353.58 466.21 361.64 466.73 368.15 C467.25 374.66 468.05 384.83 468.57 389.39 C469.09 393.96 469.51 395.22 469.95 396.68 C470.39 398.14 471.11 398.21 471.33 398.5 Z" fill="#b8b8b8" stroke="#999" stroke-width="0.5"/>
<path d="M450.5 398.5 C451.3 398.5 454.32 399.08 455.5 398.5 C456.68 397.92 457.2 396.9 457.9 394.86 C458.6 392.82 459.36 389.83 459.9 385.75 C460.44 381.67 460.84 375.09 461.3 369.36 C461.76 363.63 462.42 354.7 462.8 349.94 C463.18 345.18 463.48 341.56 463.7 339.62 C463.92 337.68 463.99 337.51 464.2 337.8 C464.41 338.09 464.7 338.72 465 341.44 C465.3 344.16 465.68 349.55 466.1 354.8 C466.52 360.04 467.14 368.88 467.6 374.22 C468.06 379.56 468.55 384.88 469 388.18 C469.45 391.48 469.79 393.3 470.4 394.86 C471.01 396.41 472.1 397.31 472.8 397.89 C473.5 398.48 468.7 398.4 474.8 398.5 C480.9 398.6 505.12 398.5 510.9 398.5" fill="none" stroke="#1e1e1e" stroke-width="1.0" stroke-linejoin="round"/>
<line x1="450" y1="337.4" x2="511.4" y2="337.4" stroke="#c4c4c4" stroke-width="0.9" />
<line x1="450" y1="337.4" x2="450" y2="398.5" stroke="#d8d8d8" stroke-width="0.9" />
<line x1="449.4" y1="390.86" x2="450.6" y2="390.86" stroke="#d0d0d0" stroke-width="0.7" />
<line x1="449.4" y1="383.23" x2="450.6" y2="383.23" stroke="#d0d0d0" stroke-width="0.7" />
<line x1="449.4" y1="375.59" x2="450.6" y2="375.59" stroke="#d0d0d0" stroke-width="0.7" />
<line x1="449.4" y1="367.95" x2="450.6" y2="367.95" stroke="#d0d0d0" stroke-width="0.7" />
<line x1="449.4" y1="360.31" x2="450.6" y2="360.31" stroke="#d0d0d0" stroke-width="0.7" />
<line x1="449.4" y1="352.67" x2="450.6" y2="352.67" stroke="#d0d0d0" stroke-width="0.7" />
<line x1="449.4" y1="345.04" x2="450.6" y2="345.04" stroke="#d0d0d0" stroke-width="0.7" />
<line x1="511.4" y1="337.4" x2="511.4" y2="398.5" stroke="#a4a4a4" stroke-width="0.9" />
<line x1="450" y1="398.5" x2="511.4" y2="398.5" stroke="#6a6a6a" stroke-width="1" />
<text x="509" y="345.8" font-size="7.4" font-weight="normal" text-anchor="end" fill="#222" >9</text>
<text x="34.2" y="265.4" font-size="10.5" font-weight="bold" text-anchor="middle" fill="#111" transform="rotate(-90 34.2 265.4)" >PD-L1 siRNA</text>
<text x="34.6" y="368.5" font-size="10.5" font-weight="bold" text-anchor="middle" fill="#111" transform="rotate(-90 34.6 368.5)" >PD-L2 siRNA</text>
<line x1="51.5" y1="304" x2="498" y2="304" stroke="#666" stroke-width="1.5" />
<path d="M496.2 300.8 L504.4 304 L496.2 307.2 Z" fill="#111"/>
<text x="62.3" y="318.8" font-size="10.2" font-weight="bold" text-anchor="start" fill="#111" >PD-L1</text>
<line x1="54" y1="409.3" x2="499.5" y2="409.3" stroke="#666" stroke-width="1.5" />
<path d="M497.7 405.6 L506.6 409.3 L497.7 412.9 Z" fill="#111"/>
<text x="61.3" y="425.5" font-size="10.2" font-weight="bold" text-anchor="start" fill="#111" >PD-L2</text>
<line x1="52.5" y1="461.2" x2="52.5" y2="589.6" stroke="#111" stroke-width="1.7" />
<line x1="48.9" y1="588.8" x2="52.5" y2="588.8" stroke="#111" stroke-width="1.4" />
<text x="48.5" y="591.9" font-size="8.6" font-weight="bold" text-anchor="end" fill="#111" >0</text>
<line x1="48.9" y1="556.9" x2="52.5" y2="556.9" stroke="#111" stroke-width="1.4" />
<text x="48.5" y="560" font-size="8.6" font-weight="bold" text-anchor="end" fill="#111" >25</text>
<line x1="48.9" y1="525" x2="52.5" y2="525" stroke="#111" stroke-width="1.4" />
<text x="48.5" y="528.1" font-size="8.6" font-weight="bold" text-anchor="end" fill="#111" >50</text>
<line x1="48.9" y1="493.1" x2="52.5" y2="493.1" stroke="#111" stroke-width="1.4" />
<text x="48.5" y="496.2" font-size="8.6" font-weight="bold" text-anchor="end" fill="#111" >75</text>
<line x1="48.9" y1="461.2" x2="52.5" y2="461.2" stroke="#111" stroke-width="1.4" />
<text x="48.5" y="464.3" font-size="8.6" font-weight="bold" text-anchor="end" fill="#111" >100</text>
<line x1="51.7" y1="588.8" x2="247.7" y2="588.8" stroke="#111" stroke-width="1.7" />
<line x1="63.6" y1="588.8" x2="63.6" y2="592.2" stroke="#111" stroke-width="1.4" />
<line x1="84.75" y1="588.8" x2="84.75" y2="592.2" stroke="#111" stroke-width="1.4" />
<line x1="105.9" y1="588.8" x2="105.9" y2="592.2" stroke="#111" stroke-width="1.4" />
<line x1="127.05" y1="588.8" x2="127.05" y2="592.2" stroke="#111" stroke-width="1.4" />
<line x1="148.2" y1="588.8" x2="148.2" y2="592.2" stroke="#111" stroke-width="1.4" />
<line x1="169.35" y1="588.8" x2="169.35" y2="592.2" stroke="#111" stroke-width="1.4" />
<line x1="190.5" y1="588.8" x2="190.5" y2="592.2" stroke="#111" stroke-width="1.4" />
<line x1="211.65" y1="588.8" x2="211.65" y2="592.2" stroke="#111" stroke-width="1.4" />
<line x1="232.8" y1="588.8" x2="232.8" y2="592.2" stroke="#111" stroke-width="1.4" />
<text x="67.1" y="594.7" font-size="9.7" font-weight="bold" text-anchor="end" fill="#111" transform="rotate(-90 67.1 594.7)" >-siRNA</text>
<text x="88.25" y="594.7" font-size="9.7" font-weight="bold" text-anchor="end" fill="#111" transform="rotate(-90 88.25 594.7)" >+MED GC</text>
<text x="109.4" y="594.7" font-size="9.7" font-weight="bold" text-anchor="end" fill="#111" transform="rotate(-90 109.4 594.7)" >+LOW GC</text>
<text x="127.05" y="606.1" font-size="9" font-weight="bold" text-anchor="middle" fill="#111" >1</text>
<text x="148.2" y="606.1" font-size="9" font-weight="bold" text-anchor="middle" fill="#111" >2</text>
<text x="169.35" y="606.1" font-size="9" font-weight="bold" text-anchor="middle" fill="#111" >3</text>
<text x="190.5" y="606.1" font-size="9" font-weight="bold" text-anchor="middle" fill="#111" >1</text>
<text x="211.65" y="606.1" font-size="9" font-weight="bold" text-anchor="middle" fill="#111" >2</text>
<text x="232.8" y="606.1" font-size="9" font-weight="bold" text-anchor="middle" fill="#111" >3</text>
<line x1="121.75" y1="610.1" x2="174.25" y2="610.1" stroke="#111" stroke-width="1.3" />
<text x="148" y="622.3" font-size="9" font-weight="bold" text-anchor="middle" fill="#111" >PD-L1 siRNA</text>
<line x1="185.2" y1="610.1" x2="237.7" y2="610.1" stroke="#111" stroke-width="1.3" />
<text x="211.45" y="622.3" font-size="9" font-weight="bold" text-anchor="middle" fill="#111" >PD-L2 siRNA</text>
<text x="31.6" y="524.7" font-size="9.8" font-weight="bold" text-anchor="middle" fill="#111" transform="rotate(-90 31.6 524.7)">% PD-L1<tspan font-size="6.4" dy="-3.8">+</tspan><tspan dy="3.8"> cells</tspan></text>
<circle cx="63.5" cy="461.8" r="2.3" fill="#111"/>
<circle cx="58.5" cy="464.5" r="2.3" fill="#111"/>
<circle cx="68.5" cy="464.5" r="2.3" fill="#111"/>
<circle cx="60.5" cy="467" r="2.3" fill="#111"/>
<circle cx="66.5" cy="467" r="2.3" fill="#111"/>
<circle cx="63.5" cy="467.8" r="2.3" fill="#111"/>
<line x1="56.5" y1="465" x2="70.8" y2="465" stroke="#111" stroke-width="1.8" />
<circle cx="81.5" cy="461.9" r="2.3" fill="#111"/>
<circle cx="84.6" cy="465.5" r="2.3" fill="#111"/>
<circle cx="87.7" cy="465.5" r="2.3" fill="#111"/>
<line x1="77.4" y1="464.5" x2="91.5" y2="464.5" stroke="#111" stroke-width="1.8" />
<circle cx="102.6" cy="463" r="2.3" fill="#111"/>
<circle cx="109.2" cy="466.5" r="2.3" fill="#111"/>
<circle cx="105.7" cy="469.6" r="2.3" fill="#111"/>
<line x1="98.5" y1="466" x2="113" y2="466" stroke="#111" stroke-width="1.8" />
<circle cx="120.5" cy="480.5" r="2.3" fill="#111"/>
<circle cx="126.6" cy="482" r="2.3" fill="#111"/>
<circle cx="130" cy="480.5" r="2.3" fill="#111"/>
<circle cx="126.6" cy="498" r="2.3" fill="#111"/>
<circle cx="126.6" cy="511.8" r="2.3" fill="#111"/>
<circle cx="126.6" cy="530.8" r="2.3" fill="#111"/>
<line x1="119.5" y1="497" x2="134.6" y2="497" stroke="#111" stroke-width="1.8" />
<circle cx="148.2" cy="541" r="2.3" fill="#111"/>
<circle cx="148.2" cy="552.8" r="2.3" fill="#111"/>
<circle cx="151.2" cy="558.5" r="2.3" fill="#111"/>
<circle cx="148.2" cy="564.6" r="2.3" fill="#111"/>
<circle cx="148.2" cy="574.6" r="2.3" fill="#111"/>
<circle cx="148.2" cy="582" r="2.3" fill="#111"/>
<line x1="140.8" y1="562.3" x2="155.7" y2="562.3" stroke="#111" stroke-width="1.8" />
<circle cx="172.6" cy="510.3" r="2.3" fill="#111"/>
<circle cx="169.2" cy="515.8" r="2.3" fill="#111"/>
<circle cx="162.8" cy="533.8" r="2.3" fill="#111"/>
<circle cx="169.2" cy="536.2" r="2.3" fill="#111"/>
<circle cx="169.2" cy="547.7" r="2.3" fill="#111"/>
<line x1="162" y1="528.8" x2="176.9" y2="528.8" stroke="#111" stroke-width="1.8" />
<circle cx="188" cy="463.5" r="2.3" fill="#111"/>
<circle cx="193" cy="463.5" r="2.3" fill="#111"/>
<circle cx="190.4" cy="462" r="2.3" fill="#111"/>
<circle cx="190.4" cy="465.5" r="2.3" fill="#111"/>
<circle cx="186.5" cy="464" r="2.3" fill="#111"/>
<circle cx="194.5" cy="464" r="2.3" fill="#111"/>
<line x1="183" y1="463.8" x2="197.7" y2="463.8" stroke="#111" stroke-width="1.8" />
<circle cx="208" cy="465" r="2.3" fill="#111"/>
<circle cx="215" cy="465" r="2.3" fill="#111"/>
<circle cx="211.5" cy="463" r="2.3" fill="#111"/>
<circle cx="211.5" cy="467.5" r="2.3" fill="#111"/>
<circle cx="209.5" cy="466.5" r="2.3" fill="#111"/>
<circle cx="213.5" cy="466.5" r="2.3" fill="#111"/>
<line x1="204.3" y1="465.2" x2="219.3" y2="465.2" stroke="#111" stroke-width="1.8" />
<circle cx="229.5" cy="466" r="2.3" fill="#111"/>
<circle cx="236" cy="466" r="2.3" fill="#111"/>
<circle cx="232.7" cy="463.3" r="2.3" fill="#111"/>
<circle cx="232.7" cy="469.2" r="2.3" fill="#111"/>
<circle cx="230.5" cy="467.5" r="2.3" fill="#111"/>
<circle cx="235" cy="467.5" r="2.3" fill="#111"/>
<line x1="225.4" y1="466.1" x2="240.1" y2="466.1" stroke="#111" stroke-width="1.8" />
<line x1="311.4" y1="461.2" x2="311.4" y2="589.6" stroke="#111" stroke-width="1.7" />
<line x1="307.8" y1="588.8" x2="311.4" y2="588.8" stroke="#111" stroke-width="1.4" />
<text x="307.4" y="591.9" font-size="8.6" font-weight="bold" text-anchor="end" fill="#111" >0</text>
<line x1="307.8" y1="556.9" x2="311.4" y2="556.9" stroke="#111" stroke-width="1.4" />
<text x="307.4" y="560" font-size="8.6" font-weight="bold" text-anchor="end" fill="#111" >25</text>
<line x1="307.8" y1="525" x2="311.4" y2="525" stroke="#111" stroke-width="1.4" />
<text x="307.4" y="528.1" font-size="8.6" font-weight="bold" text-anchor="end" fill="#111" >50</text>
<line x1="307.8" y1="493.1" x2="311.4" y2="493.1" stroke="#111" stroke-width="1.4" />
<text x="307.4" y="496.2" font-size="8.6" font-weight="bold" text-anchor="end" fill="#111" >75</text>
<line x1="307.8" y1="461.2" x2="311.4" y2="461.2" stroke="#111" stroke-width="1.4" />
<text x="307.4" y="464.3" font-size="8.6" font-weight="bold" text-anchor="end" fill="#111" >100</text>
<line x1="310.6" y1="588.8" x2="506.6" y2="588.8" stroke="#111" stroke-width="1.7" />
<line x1="322.5" y1="588.8" x2="322.5" y2="592.2" stroke="#111" stroke-width="1.4" />
<line x1="343.65" y1="588.8" x2="343.65" y2="592.2" stroke="#111" stroke-width="1.4" />
<line x1="364.8" y1="588.8" x2="364.8" y2="592.2" stroke="#111" stroke-width="1.4" />
<line x1="385.95" y1="588.8" x2="385.95" y2="592.2" stroke="#111" stroke-width="1.4" />
<line x1="407.1" y1="588.8" x2="407.1" y2="592.2" stroke="#111" stroke-width="1.4" />
<line x1="428.25" y1="588.8" x2="428.25" y2="592.2" stroke="#111" stroke-width="1.4" />
<line x1="449.4" y1="588.8" x2="449.4" y2="592.2" stroke="#111" stroke-width="1.4" />
<line x1="470.55" y1="588.8" x2="470.55" y2="592.2" stroke="#111" stroke-width="1.4" />
<line x1="491.7" y1="588.8" x2="491.7" y2="592.2" stroke="#111" stroke-width="1.4" />
<text x="326" y="594.7" font-size="9.7" font-weight="bold" text-anchor="end" fill="#111" transform="rotate(-90 326 594.7)" >-siRNA</text>
<text x="347.15" y="594.7" font-size="9.7" font-weight="bold" text-anchor="end" fill="#111" transform="rotate(-90 347.15 594.7)" >+MED GC</text>
<text x="368.3" y="594.7" font-size="9.7" font-weight="bold" text-anchor="end" fill="#111" transform="rotate(-90 368.3 594.7)" >+LOW GC</text>
<text x="385.95" y="606.1" font-size="9" font-weight="bold" text-anchor="middle" fill="#111" >1</text>
<text x="407.1" y="606.1" font-size="9" font-weight="bold" text-anchor="middle" fill="#111" >2</text>
<text x="428.25" y="606.1" font-size="9" font-weight="bold" text-anchor="middle" fill="#111" >3</text>
<text x="449.4" y="606.1" font-size="9" font-weight="bold" text-anchor="middle" fill="#111" >1</text>
<text x="470.55" y="606.1" font-size="9" font-weight="bold" text-anchor="middle" fill="#111" >2</text>
<text x="491.7" y="606.1" font-size="9" font-weight="bold" text-anchor="middle" fill="#111" >3</text>
<line x1="380.65" y1="610.1" x2="433.15" y2="610.1" stroke="#111" stroke-width="1.3" />
<text x="406.9" y="622.3" font-size="9" font-weight="bold" text-anchor="middle" fill="#111" >PD-L1 siRNA</text>
<line x1="444.1" y1="610.1" x2="496.6" y2="610.1" stroke="#111" stroke-width="1.3" />
<text x="470.35" y="622.3" font-size="9" font-weight="bold" text-anchor="middle" fill="#111" >PD-L2 siRNA</text>
<text x="290.5" y="524.7" font-size="9.8" font-weight="bold" text-anchor="middle" fill="#111" transform="rotate(-90 290.5 524.7)">% PD-L2<tspan font-size="6.4" dy="-3.8">+</tspan><tspan dy="3.8"> cells</tspan></text>
<circle cx="316" cy="476.2" r="2.3" fill="#111"/>
<circle cx="322.3" cy="477.7" r="2.3" fill="#111"/>
<circle cx="322.3" cy="486.7" r="2.3" fill="#111"/>
<circle cx="316" cy="494.4" r="2.3" fill="#111"/>
<circle cx="322.7" cy="496.3" r="2.3" fill="#111"/>
<circle cx="321.9" cy="512.7" r="2.3" fill="#111"/>
<circle cx="325.8" cy="511.2" r="2.3" fill="#111"/>
<line x1="313.7" y1="493.5" x2="329.6" y2="493.5" stroke="#111" stroke-width="1.8" />
<circle cx="343.5" cy="475.6" r="2.3" fill="#111"/>
<circle cx="343.5" cy="489.2" r="2.3" fill="#111"/>
<circle cx="343.5" cy="524.2" r="2.3" fill="#111"/>
<line x1="335.8" y1="496.3" x2="350.8" y2="496.3" stroke="#111" stroke-width="1.8" />
<circle cx="364.6" cy="476.2" r="2.3" fill="#111"/>
<circle cx="364.6" cy="500.6" r="2.3" fill="#111"/>
<circle cx="364.6" cy="539" r="2.3" fill="#111"/>
<line x1="356.9" y1="505.6" x2="372.3" y2="505.6" stroke="#111" stroke-width="1.8" />
<circle cx="379.2" cy="472.7" r="2.3" fill="#111"/>
<circle cx="385.7" cy="473.5" r="2.3" fill="#111"/>
<circle cx="385.7" cy="482.7" r="2.3" fill="#111"/>
<circle cx="379.2" cy="488.1" r="2.3" fill="#111"/>
<circle cx="385.7" cy="490.1" r="2.3" fill="#111"/>
<circle cx="385.7" cy="508.5" r="2.3" fill="#111"/>
<line x1="377.7" y1="485.8" x2="393.1" y2="485.8" stroke="#111" stroke-width="1.8" />
<circle cx="400.5" cy="477.3" r="2.3" fill="#111"/>
<circle cx="406.9" cy="478.4" r="2.3" fill="#111"/>
<circle cx="410.3" cy="476.8" r="2.3" fill="#111"/>
<circle cx="406.9" cy="487.6" r="2.3" fill="#111"/>
<circle cx="406.9" cy="499.2" r="2.3" fill="#111"/>
<circle cx="406.9" cy="509.9" r="2.3" fill="#111"/>
<line x1="399.7" y1="488.1" x2="414.6" y2="488.1" stroke="#111" stroke-width="1.8" />
<circle cx="428" cy="486.8" r="2.3" fill="#111"/>
<circle cx="428" cy="495.8" r="2.3" fill="#111"/>
<circle cx="428" cy="504.5" r="2.3" fill="#111"/>
<circle cx="431.5" cy="510.7" r="2.3" fill="#111"/>
<circle cx="428" cy="516.5" r="2.3" fill="#111"/>
<line x1="420.8" y1="503" x2="435.8" y2="503" stroke="#111" stroke-width="1.8" />
<circle cx="452.8" cy="569.2" r="2.3" fill="#111"/>
<circle cx="449.2" cy="571.8" r="2.3" fill="#111"/>
<circle cx="442.6" cy="579.5" r="2.3" fill="#111"/>
<circle cx="448.8" cy="580" r="2.3" fill="#111"/>
<circle cx="452.8" cy="581.5" r="2.3" fill="#111"/>
<circle cx="449.2" cy="586.6" r="2.3" fill="#111"/>
<line x1="442" y1="578.2" x2="456.5" y2="578.2" stroke="#111" stroke-width="1.8" />
<circle cx="463.8" cy="578" r="2.3" fill="#111"/>
<circle cx="470.3" cy="580" r="2.3" fill="#111"/>
<circle cx="473" cy="582.3" r="2.3" fill="#111"/>
<circle cx="467.7" cy="583.8" r="2.3" fill="#111"/>
<circle cx="474.6" cy="584.6" r="2.3" fill="#111"/>
<circle cx="470" cy="586.2" r="2.3" fill="#111"/>
<line x1="463" y1="582.6" x2="477.4" y2="582.6" stroke="#111" stroke-width="1.8" />
<circle cx="485.1" cy="574.6" r="2.3" fill="#111"/>
<circle cx="491.2" cy="579.5" r="2.3" fill="#111"/>
<circle cx="493" cy="580.5" r="2.3" fill="#111"/>
<circle cx="488.5" cy="581.5" r="2.3" fill="#111"/>
<circle cx="495.4" cy="585.7" r="2.3" fill="#111"/>
<circle cx="491.5" cy="586.9" r="2.3" fill="#111"/>
<line x1="484.6" y1="581.5" x2="498.5" y2="581.5" stroke="#111" stroke-width="1.8" />
<line x1="53.8" y1="669.5" x2="53.8" y2="706.4" stroke="#111" stroke-width="1.7" />
<line x1="53.8" y1="705.7" x2="56" y2="705.7" stroke="#111" stroke-width="1.4" />
<line x1="53.8" y1="714.2" x2="53.8" y2="759.8" stroke="#111" stroke-width="1.7" />
<line x1="53.8" y1="714.2" x2="55.8" y2="714.2" stroke="#111" stroke-width="1.4" />
<line x1="50.2" y1="669.49" x2="53.8" y2="669.49" stroke="#111" stroke-width="1.4" />
<text x="49.5" y="672.69" font-size="9.3" font-weight="bold" text-anchor="end" fill="#111" >1500</text>
<line x1="50.2" y1="687.6" x2="53.8" y2="687.6" stroke="#111" stroke-width="1.4" />
<text x="49.5" y="690.8" font-size="9.3" font-weight="bold" text-anchor="end" fill="#111" >1350</text>
<line x1="50.2" y1="705.7" x2="53.8" y2="705.7" stroke="#111" stroke-width="1.4" />
<text x="49.5" y="708.9" font-size="9.3" font-weight="bold" text-anchor="end" fill="#111" >1200</text>
<line x1="50.2" y1="759" x2="53.8" y2="759" stroke="#111" stroke-width="1.4" />
<text x="49.5" y="762.2" font-size="9.3" font-weight="bold" text-anchor="end" fill="#111" >0</text>
<line x1="50.2" y1="744" x2="53.8" y2="744" stroke="#111" stroke-width="1.4" />
<text x="49.5" y="747.2" font-size="9.3" font-weight="bold" text-anchor="end" fill="#111" >50</text>
<line x1="50.2" y1="729" x2="53.8" y2="729" stroke="#111" stroke-width="1.4" />
<text x="49.5" y="732.2" font-size="9.3" font-weight="bold" text-anchor="end" fill="#111" >100</text>
<line x1="50.2" y1="714" x2="53.8" y2="714" stroke="#111" stroke-width="1.4" />
<text x="49.5" y="717.2" font-size="9.3" font-weight="bold" text-anchor="end" fill="#111" >150</text>
<line x1="53" y1="759" x2="188.6" y2="759" stroke="#111" stroke-width="1.7" />
<line x1="64.3" y1="759" x2="64.3" y2="762.6" stroke="#111" stroke-width="1.4" />
<line x1="86.8" y1="759" x2="86.8" y2="762.6" stroke="#111" stroke-width="1.4" />
<line x1="109.3" y1="759" x2="109.3" y2="762.6" stroke="#111" stroke-width="1.4" />
<line x1="131.8" y1="759" x2="131.8" y2="762.6" stroke="#111" stroke-width="1.4" />
<line x1="154.3" y1="759" x2="154.3" y2="762.6" stroke="#111" stroke-width="1.4" />
<line x1="176.8" y1="759" x2="176.8" y2="762.6" stroke="#111" stroke-width="1.4" />
<text x="67.8" y="764.6" font-size="10" font-weight="bold" text-anchor="end" fill="#111" transform="rotate(-90 67.8 764.6)" >CD14</text>
<text x="90.3" y="764.6" font-size="10" font-weight="bold" text-anchor="end" fill="#111" transform="rotate(-90 90.3 764.6)" >CD83</text>
<text x="112.8" y="764.6" font-size="10" font-weight="bold" text-anchor="end" fill="#111" transform="rotate(-90 112.8 764.6)" >CD80</text>
<text x="135.3" y="764.6" font-size="10" font-weight="bold" text-anchor="end" fill="#111" transform="rotate(-90 135.3 764.6)" >CD86</text>
<text x="157.8" y="764.6" font-size="10" font-weight="bold" text-anchor="end" fill="#111" transform="rotate(-90 157.8 764.6)" >IgG1 FITC</text>
<text x="180.3" y="764.6" font-size="10" font-weight="bold" text-anchor="end" fill="#111" transform="rotate(-90 180.3 764.6)" >IgG2b PE</text>
<text x="21.6" y="713" font-size="10.1" font-weight="bold" text-anchor="middle" fill="#111" transform="rotate(-90 21.6 713)" >Expression&#160;&#160;(MFI)</text>
<rect x="55.1" y="755.1" width="3.6" height="3.9" fill="#111" stroke="#111" stroke-width="0.8"/>
<line x1="56.9" y1="753.9" x2="56.9" y2="755.1" stroke="#111" stroke-width="1" />
<line x1="55.5" y1="753.9" x2="58.3" y2="753.9" stroke="#111" stroke-width="1.4" />
<rect x="60" y="756.3" width="3.6" height="2.7" fill="#fff" stroke="#8a8a8a" stroke-width="0.8"/>
<line x1="61.8" y1="755.7" x2="61.8" y2="756.3" stroke="#111" stroke-width="1" />
<line x1="60.4" y1="755.7" x2="63.2" y2="755.7" stroke="#111" stroke-width="1.4" />
<rect x="65" y="754.2" width="3.6" height="4.8" fill="#4a4a4a" stroke="#333" stroke-width="0.8"/>
<line x1="66.8" y1="753.3" x2="66.8" y2="754.2" stroke="#111" stroke-width="1" />
<line x1="65.4" y1="753.3" x2="68.2" y2="753.3" stroke="#111" stroke-width="1.4" />
<rect x="69.9" y="754.8" width="3.6" height="4.2" fill="#8c8c8c" stroke="#707070" stroke-width="0.8"/>
<line x1="71.7" y1="753.9" x2="71.7" y2="754.8" stroke="#111" stroke-width="1" />
<line x1="70.3" y1="753.9" x2="73.1" y2="753.9" stroke="#111" stroke-width="1.4" />
<rect x="77.6" y="735.6" width="3.6" height="23.4" fill="#111" stroke="#111" stroke-width="0.8"/>
<line x1="79.4" y1="733.5" x2="79.4" y2="735.6" stroke="#111" stroke-width="1" />
<line x1="78" y1="733.5" x2="80.8" y2="733.5" stroke="#111" stroke-width="1.4" />
<rect x="82.5" y="736.5" width="3.6" height="22.5" fill="#fff" stroke="#8a8a8a" stroke-width="0.8"/>
<line x1="84.3" y1="732" x2="84.3" y2="736.5" stroke="#111" stroke-width="1" />
<line x1="82.9" y1="732" x2="85.7" y2="732" stroke="#111" stroke-width="1.4" />
<rect x="87.5" y="735" width="3.6" height="24" fill="#4a4a4a" stroke="#333" stroke-width="0.8"/>
<line x1="89.3" y1="732.6" x2="89.3" y2="735" stroke="#111" stroke-width="1" />
<line x1="87.9" y1="732.6" x2="90.7" y2="732.6" stroke="#111" stroke-width="1.4" />
<rect x="92.4" y="732.6" width="3.6" height="26.4" fill="#8c8c8c" stroke="#707070" stroke-width="0.8"/>
<line x1="94.2" y1="729.6" x2="94.2" y2="732.6" stroke="#111" stroke-width="1" />
<line x1="92.8" y1="729.6" x2="95.6" y2="729.6" stroke="#111" stroke-width="1.4" />
<rect x="100.1" y="732.9" width="3.6" height="26.1" fill="#111" stroke="#111" stroke-width="0.8"/>
<line x1="101.9" y1="730.8" x2="101.9" y2="732.9" stroke="#111" stroke-width="1" />
<line x1="100.5" y1="730.8" x2="103.3" y2="730.8" stroke="#111" stroke-width="1.4" />
<rect x="105" y="735.6" width="3.6" height="23.4" fill="#fff" stroke="#8a8a8a" stroke-width="0.8"/>
<line x1="106.8" y1="733.5" x2="106.8" y2="735.6" stroke="#111" stroke-width="1" />
<line x1="105.4" y1="733.5" x2="108.2" y2="733.5" stroke="#111" stroke-width="1.4" />
<rect x="110" y="733.5" width="3.6" height="25.5" fill="#4a4a4a" stroke="#333" stroke-width="0.8"/>
<line x1="111.8" y1="730.8" x2="111.8" y2="733.5" stroke="#111" stroke-width="1" />
<line x1="110.4" y1="730.8" x2="113.2" y2="730.8" stroke="#111" stroke-width="1.4" />
<rect x="114.9" y="731.4" width="3.6" height="27.6" fill="#8c8c8c" stroke="#707070" stroke-width="0.8"/>
<line x1="116.7" y1="729" x2="116.7" y2="731.4" stroke="#111" stroke-width="1" />
<line x1="115.3" y1="729" x2="118.1" y2="729" stroke="#111" stroke-width="1.4" />
<rect x="122.6" y="693.99" width="3.6" height="11.61" fill="#111" stroke="#111" stroke-width="0.8"/>
<rect x="122.6" y="714" width="3.6" height="45" fill="#111" stroke="#111" stroke-width="0.8"/>
<line x1="124.4" y1="687.35" x2="124.4" y2="693.99" stroke="#111" stroke-width="1" />
<line x1="123" y1="687.35" x2="125.8" y2="687.35" stroke="#111" stroke-width="1.4" />
<rect x="127.5" y="687.6" width="3.6" height="18" fill="#fff" stroke="#8a8a8a" stroke-width="0.8"/>
<rect x="127.5" y="714" width="3.6" height="45" fill="#fff" stroke="#8a8a8a" stroke-width="0.8"/>
<line x1="129.3" y1="671.9" x2="129.3" y2="687.6" stroke="#111" stroke-width="1" />
<line x1="127.9" y1="671.9" x2="130.7" y2="671.9" stroke="#111" stroke-width="1.4" />
<rect x="132.5" y="699.06" width="3.6" height="6.54" fill="#4a4a4a" stroke="#333" stroke-width="0.8"/>
<rect x="132.5" y="714" width="3.6" height="45" fill="#4a4a4a" stroke="#333" stroke-width="0.8"/>
<line x1="134.3" y1="690.61" x2="134.3" y2="699.06" stroke="#111" stroke-width="1" />
<line x1="132.9" y1="690.61" x2="135.7" y2="690.61" stroke="#111" stroke-width="1.4" />
<rect x="137.4" y="694.72" width="3.6" height="10.88" fill="#8c8c8c" stroke="#707070" stroke-width="0.8"/>
<rect x="137.4" y="714" width="3.6" height="45" fill="#8c8c8c" stroke="#707070" stroke-width="0.8"/>
<line x1="139.2" y1="683.85" x2="139.2" y2="694.72" stroke="#111" stroke-width="1" />
<line x1="137.8" y1="683.85" x2="140.6" y2="683.85" stroke="#111" stroke-width="1.4" />
<rect x="145.1" y="756.9" width="3.6" height="2.1" fill="#111" stroke="#111" stroke-width="0.8"/>
<line x1="146.9" y1="756.45" x2="146.9" y2="756.9" stroke="#111" stroke-width="1" />
<line x1="145.5" y1="756.45" x2="148.3" y2="756.45" stroke="#111" stroke-width="1.4" />
<rect x="150" y="757.2" width="3.6" height="1.8" fill="#fff" stroke="#8a8a8a" stroke-width="0.8"/>
<line x1="151.8" y1="756.75" x2="151.8" y2="757.2" stroke="#111" stroke-width="1" />
<line x1="150.4" y1="756.75" x2="153.2" y2="756.75" stroke="#111" stroke-width="1.4" />
<rect x="155" y="756.9" width="3.6" height="2.1" fill="#4a4a4a" stroke="#333" stroke-width="0.8"/>
<line x1="156.8" y1="756.45" x2="156.8" y2="756.9" stroke="#111" stroke-width="1" />
<line x1="155.4" y1="756.45" x2="158.2" y2="756.45" stroke="#111" stroke-width="1.4" />
<rect x="159.9" y="756.9" width="3.6" height="2.1" fill="#8c8c8c" stroke="#707070" stroke-width="0.8"/>
<line x1="161.7" y1="756.45" x2="161.7" y2="756.9" stroke="#111" stroke-width="1" />
<line x1="160.3" y1="756.45" x2="163.1" y2="756.45" stroke="#111" stroke-width="1.4" />
<rect x="167.6" y="754.2" width="3.6" height="4.8" fill="#111" stroke="#111" stroke-width="0.8"/>
<line x1="169.4" y1="752.4" x2="169.4" y2="754.2" stroke="#111" stroke-width="1" />
<line x1="168" y1="752.4" x2="170.8" y2="752.4" stroke="#111" stroke-width="1.4" />
<rect x="172.5" y="755.4" width="3.6" height="3.6" fill="#fff" stroke="#8a8a8a" stroke-width="0.8"/>
<line x1="174.3" y1="754.8" x2="174.3" y2="755.4" stroke="#111" stroke-width="1" />
<line x1="172.9" y1="754.8" x2="175.7" y2="754.8" stroke="#111" stroke-width="1.4" />
<rect x="177.5" y="753.9" width="3.6" height="5.1" fill="#4a4a4a" stroke="#333" stroke-width="0.8"/>
<line x1="179.3" y1="753" x2="179.3" y2="753.9" stroke="#111" stroke-width="1" />
<line x1="177.9" y1="753" x2="180.7" y2="753" stroke="#111" stroke-width="1.4" />
<rect x="182.4" y="753.6" width="3.6" height="5.4" fill="#8c8c8c" stroke="#707070" stroke-width="0.8"/>
<line x1="184.2" y1="752.7" x2="184.2" y2="753.6" stroke="#111" stroke-width="1" />
<line x1="182.8" y1="752.7" x2="185.6" y2="752.7" stroke="#111" stroke-width="1.4" />
<line x1="233.5" y1="669.4" x2="233.5" y2="762.8" stroke="#111" stroke-width="1.7" />
<line x1="229.9" y1="758.8" x2="233.5" y2="758.8" stroke="#111" stroke-width="1.4" />
<text x="229.1" y="761.9" font-size="9" font-weight="bold" text-anchor="end" fill="#111" >0</text>
<line x1="229.9" y1="738.67" x2="233.5" y2="738.67" stroke="#111" stroke-width="1.4" />
<text x="229.1" y="741.77" font-size="9" font-weight="bold" text-anchor="end" fill="#111" >25</text>
<line x1="229.9" y1="718.55" x2="233.5" y2="718.55" stroke="#111" stroke-width="1.4" />
<text x="229.1" y="721.65" font-size="9" font-weight="bold" text-anchor="end" fill="#111" >50</text>
<line x1="229.9" y1="698.42" x2="233.5" y2="698.42" stroke="#111" stroke-width="1.4" />
<text x="229.1" y="701.52" font-size="9" font-weight="bold" text-anchor="end" fill="#111" >75</text>
<line x1="229.9" y1="678.3" x2="233.5" y2="678.3" stroke="#111" stroke-width="1.4" />
<text x="229.1" y="681.4" font-size="9" font-weight="bold" text-anchor="end" fill="#111" >100</text>
<line x1="232.7" y1="758.8" x2="346.8" y2="758.8" stroke="#111" stroke-width="1.7" />
<text x="233.5" y="771.6" font-size="9" font-weight="bold" text-anchor="middle" fill="#111" >0</text>
<line x1="255.95" y1="758.8" x2="255.95" y2="762.2" stroke="#111" stroke-width="1.4" />
<text x="255.95" y="771.6" font-size="9" font-weight="bold" text-anchor="middle" fill="#111" >1</text>
<line x1="278.4" y1="758.8" x2="278.4" y2="762.2" stroke="#111" stroke-width="1.4" />
<text x="278.4" y="771.6" font-size="9" font-weight="bold" text-anchor="middle" fill="#111" >2</text>
<line x1="300.85" y1="758.8" x2="300.85" y2="762.2" stroke="#111" stroke-width="1.4" />
<text x="300.85" y="771.6" font-size="9" font-weight="bold" text-anchor="middle" fill="#111" >3</text>
<line x1="323.3" y1="758.8" x2="323.3" y2="762.2" stroke="#111" stroke-width="1.4" />
<text x="323.3" y="771.6" font-size="9" font-weight="bold" text-anchor="middle" fill="#111" >4</text>
<line x1="345.75" y1="758.8" x2="345.75" y2="762.2" stroke="#111" stroke-width="1.4" />
<text x="345.75" y="771.6" font-size="9" font-weight="bold" text-anchor="middle" fill="#111" >5</text>
<text x="289.3" y="788" font-size="10.45" font-weight="bold" text-anchor="middle" fill="#111" >Days after electroporation</text>
<text x="209.9" y="714.2" font-size="10.15" font-weight="bold" text-anchor="middle" fill="#111" transform="rotate(-90 209.9 714.2)">% PD-L1<tspan font-size="6.6" dy="-4">+</tspan><tspan dy="4"> cells</tspan></text>
<polyline points="255.95,729.82 278.4,753.97 300.85,753.97 323.3,751.55 345.75,744.71" fill="none" stroke="#606060" stroke-width="1.7" />
<circle cx="255.95" cy="729.82" r="2.5" fill="#606060"/>
<circle cx="278.4" cy="753.97" r="2.5" fill="#606060"/>
<circle cx="300.85" cy="753.97" r="2.5" fill="#606060"/>
<circle cx="323.3" cy="751.55" r="2.5" fill="#606060"/>
<circle cx="345.75" cy="744.71" r="2.5" fill="#606060"/>
<polyline points="255.95,676.69 278.4,677.9 300.85,678.7 323.3,678.7 345.75,678.7" fill="none" stroke="#111" stroke-width="1.8" stroke-dasharray="2.6 2.6"/>
<polyline points="255.95,678.3 278.4,677.9 300.85,679.1 323.3,679.1 345.75,679.1" fill="none" stroke="#111" stroke-width="1.8" stroke-dasharray="2.6 2.6"/>
<circle cx="255.95" cy="676.69" r="2.2" fill="#fff" stroke="#111" stroke-width="1.2"/>
<circle cx="278.4" cy="677.9" r="2.2" fill="#fff" stroke="#111" stroke-width="1.2"/>
<circle cx="300.85" cy="678.7" r="2.2" fill="#fff" stroke="#111" stroke-width="1.2"/>
<circle cx="323.3" cy="678.7" r="2.2" fill="#fff" stroke="#111" stroke-width="1.2"/>
<circle cx="345.75" cy="678.7" r="2.2" fill="#fff" stroke="#111" stroke-width="1.2"/>
<circle cx="255.95" cy="678.3" r="2.6" fill="#111"/>
<circle cx="278.4" cy="677.9" r="2.6" fill="#111"/>
<circle cx="300.85" cy="679.1" r="2.6" fill="#111"/>
<circle cx="323.3" cy="679.1" r="2.6" fill="#111"/>
<circle cx="345.75" cy="679.1" r="2.6" fill="#111"/>
<line x1="396.9" y1="669.4" x2="396.9" y2="762.8" stroke="#111" stroke-width="1.7" />
<line x1="393.3" y1="758.8" x2="396.9" y2="758.8" stroke="#111" stroke-width="1.4" />
<text x="392.5" y="761.9" font-size="9" font-weight="bold" text-anchor="end" fill="#111" >0</text>
<line x1="393.3" y1="738.67" x2="396.9" y2="738.67" stroke="#111" stroke-width="1.4" />
<text x="392.5" y="741.77" font-size="9" font-weight="bold" text-anchor="end" fill="#111" >25</text>
<line x1="393.3" y1="718.55" x2="396.9" y2="718.55" stroke="#111" stroke-width="1.4" />
<text x="392.5" y="721.65" font-size="9" font-weight="bold" text-anchor="end" fill="#111" >50</text>
<line x1="393.3" y1="698.42" x2="396.9" y2="698.42" stroke="#111" stroke-width="1.4" />
<text x="392.5" y="701.52" font-size="9" font-weight="bold" text-anchor="end" fill="#111" >75</text>
<line x1="393.3" y1="678.3" x2="396.9" y2="678.3" stroke="#111" stroke-width="1.4" />
<text x="392.5" y="681.4" font-size="9" font-weight="bold" text-anchor="end" fill="#111" >100</text>
<line x1="396.1" y1="758.8" x2="510.2" y2="758.8" stroke="#111" stroke-width="1.7" />
<text x="396.9" y="771.6" font-size="9" font-weight="bold" text-anchor="middle" fill="#111" >0</text>
<line x1="419.35" y1="758.8" x2="419.35" y2="762.2" stroke="#111" stroke-width="1.4" />
<text x="419.35" y="771.6" font-size="9" font-weight="bold" text-anchor="middle" fill="#111" >1</text>
<line x1="441.8" y1="758.8" x2="441.8" y2="762.2" stroke="#111" stroke-width="1.4" />
<text x="441.8" y="771.6" font-size="9" font-weight="bold" text-anchor="middle" fill="#111" >2</text>
<line x1="464.25" y1="758.8" x2="464.25" y2="762.2" stroke="#111" stroke-width="1.4" />
<text x="464.25" y="771.6" font-size="9" font-weight="bold" text-anchor="middle" fill="#111" >3</text>
<line x1="486.7" y1="758.8" x2="486.7" y2="762.2" stroke="#111" stroke-width="1.4" />
<text x="486.7" y="771.6" font-size="9" font-weight="bold" text-anchor="middle" fill="#111" >4</text>
<line x1="509.15" y1="758.8" x2="509.15" y2="762.2" stroke="#111" stroke-width="1.4" />
<text x="509.15" y="771.6" font-size="9" font-weight="bold" text-anchor="middle" fill="#111" >5</text>
<text x="452.7" y="788" font-size="10.45" font-weight="bold" text-anchor="middle" fill="#111" >Days after electroporation</text>
<text x="373.3" y="714.2" font-size="10.15" font-weight="bold" text-anchor="middle" fill="#111" transform="rotate(-90 373.3 714.2)">% PD-L2<tspan font-size="6.6" dy="-4">+</tspan><tspan dy="4"> cells</tspan></text>
<polyline points="419.35,741.09 441.8,752.52 464.25,751.72 486.7,749.94 509.15,747.13" fill="none" stroke="#9a9a9a" stroke-width="1.7" />
<circle cx="419.35" cy="741.09" r="2.5" fill="#9a9a9a"/>
<circle cx="441.8" cy="752.52" r="2.5" fill="#9a9a9a"/>
<circle cx="464.25" cy="751.72" r="2.5" fill="#9a9a9a"/>
<circle cx="486.7" cy="749.94" r="2.5" fill="#9a9a9a"/>
<circle cx="509.15" cy="747.13" r="2.5" fill="#9a9a9a"/>
<polyline points="419.35,680.71 441.8,691.58 464.25,679.51 486.7,681.52 509.15,681.92" fill="none" stroke="#111" stroke-width="1.8" stroke-dasharray="3.3 2.2"/>
<polyline points="419.35,678.3 441.8,678.3 464.25,678.3 486.7,678.3 509.15,678.3" fill="none" stroke="#111" stroke-width="1.8" stroke-dasharray="3.3 2.2"/>
<circle cx="419.35" cy="680.71" r="2.2" fill="#fff" stroke="#111" stroke-width="1.2"/>
<circle cx="441.8" cy="691.58" r="2.2" fill="#fff" stroke="#111" stroke-width="1.2"/>
<circle cx="464.25" cy="679.51" r="2.2" fill="#fff" stroke="#111" stroke-width="1.2"/>
<circle cx="486.7" cy="681.52" r="2.2" fill="#fff" stroke="#111" stroke-width="1.2"/>
<circle cx="509.15" cy="681.92" r="2.2" fill="#fff" stroke="#111" stroke-width="1.2"/>
<circle cx="419.35" cy="678.3" r="2.5" fill="#111"/>
<circle cx="441.8" cy="678.3" r="2.5" fill="#111"/>
<circle cx="464.25" cy="678.3" r="2.5" fill="#111"/>
<circle cx="486.7" cy="678.3" r="2.5" fill="#111"/>
<circle cx="509.15" cy="678.3" r="2.5" fill="#111"/></svg>
</body></html>
